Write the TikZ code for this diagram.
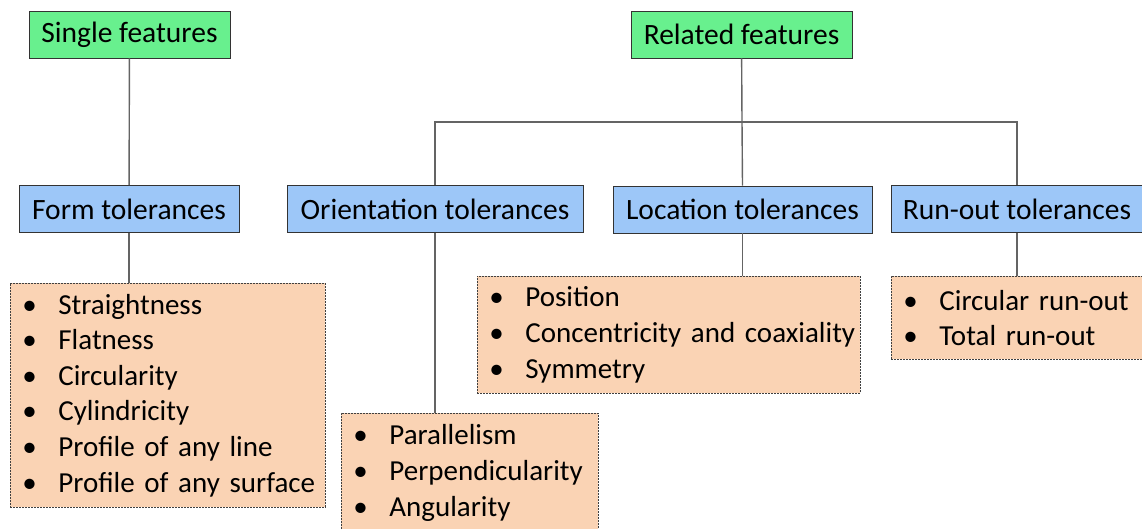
\documentclass[tikz,border=0pt]{standalone}
\usepackage{fontspec}
\setmainfont{Carlito}
\definecolor{featgreen}{RGB}{104,240,142}
\definecolor{tolblue}{RGB}{157,199,248}
\definecolor{lstpeach}{RGB}{250,211,180}
\definecolor{connGray}{RGB}{100,100,100}
\newcommand{\itm}[1]{\mbox{\makebox[36pt][l]{\textbullet}#1}}
\tikzset{
  feat/.style={draw=black!80, fill=featgreen, line width=0.8pt, minimum height=47pt, inner xsep=0pt, font=\fontsize{29.5}{35.6}\selectfont},
  tol/.style={draw=black!80, fill=tolblue, line width=0.8pt, minimum height=47pt, inner xsep=0pt, font=\fontsize{29.5}{35.6}\selectfont},
  lst/.style={draw=black!75, fill=lstpeach, dash pattern=on 2pt off 1pt, line width=0.8pt, anchor=north west, align=left, inner xsep=12pt, inner ysep=0pt, font=\fontsize{29}{35.6}\selectfont},
  conn/.style={draw=connGray, line width=1.4pt}
}
\begin{document}
\begin{tikzpicture}[x=1pt, y=-1pt]
    \useasboundingbox (0,0) rectangle (1142,529);
    \node[feat, minimum width=201pt] (single) at (129.5,34.5) {Single features};
    \node[feat, minimum width=221pt] (related) at (741.5,34.5) {Related features};

    \node[tol, minimum width=220pt] (form) at (129,209) {Form tolerances};
    \node[tol, minimum width=296pt] (orient) at (435,209) {Orientation tolerances};
    \node[tol, minimum width=259pt] (locat) at (742.5,209.5) {Location tolerances};
    \node[tol, minimum width=252pt] (runout) at (1017,209) {Run-out tolerances};

    \node[lst, text width=291pt, minimum height=224pt] (formlst) at (10,283)
        {\itm{Straightness}\\ \itm{Flatness}\\ \itm{Circularity}\\ \itm{Cylindricity}\\ \itm{Profile of any line}\\ \itm{Profile of any surface}};
    \node[lst, text width=359pt, minimum height=117pt] (locatlst) at (477,276)
        {\itm{Position}\\ \itm{Concentricity and coaxiality}\\ \itm{Symmetry}};
    \node[lst, text width=233pt, minimum height=119pt] (orientlst) at (341,413)
        {\itm{Parallelism}\\ \itm{Perpendicularity}\\ \itm{Angularity}};
    \node[lst, text width=227pt, minimum height=83pt] (runoutlst) at (891,276)
        {\itm{Circular run-out}\\ \itm{Total run-out}};

    \coordinate (bus) at (742,122);
    \draw[conn] (single) -- (form);
    \draw[conn] (related) -- (bus);
    \draw[conn] (orient.north) |- (bus) -| (runout.north);
    \draw[conn] (bus) -- (locat.north);
    \draw[conn] (form.south) -- (form.south |- formlst.north);
    \draw[conn] (orient.south) -- (orient.south |- orientlst.north);
    \draw[conn] (locat.south) -- (locat.south |- locatlst.north);
    \draw[conn] (runout.south) -- (runout.south |- runoutlst.north);
\end{tikzpicture}
\end{document}
